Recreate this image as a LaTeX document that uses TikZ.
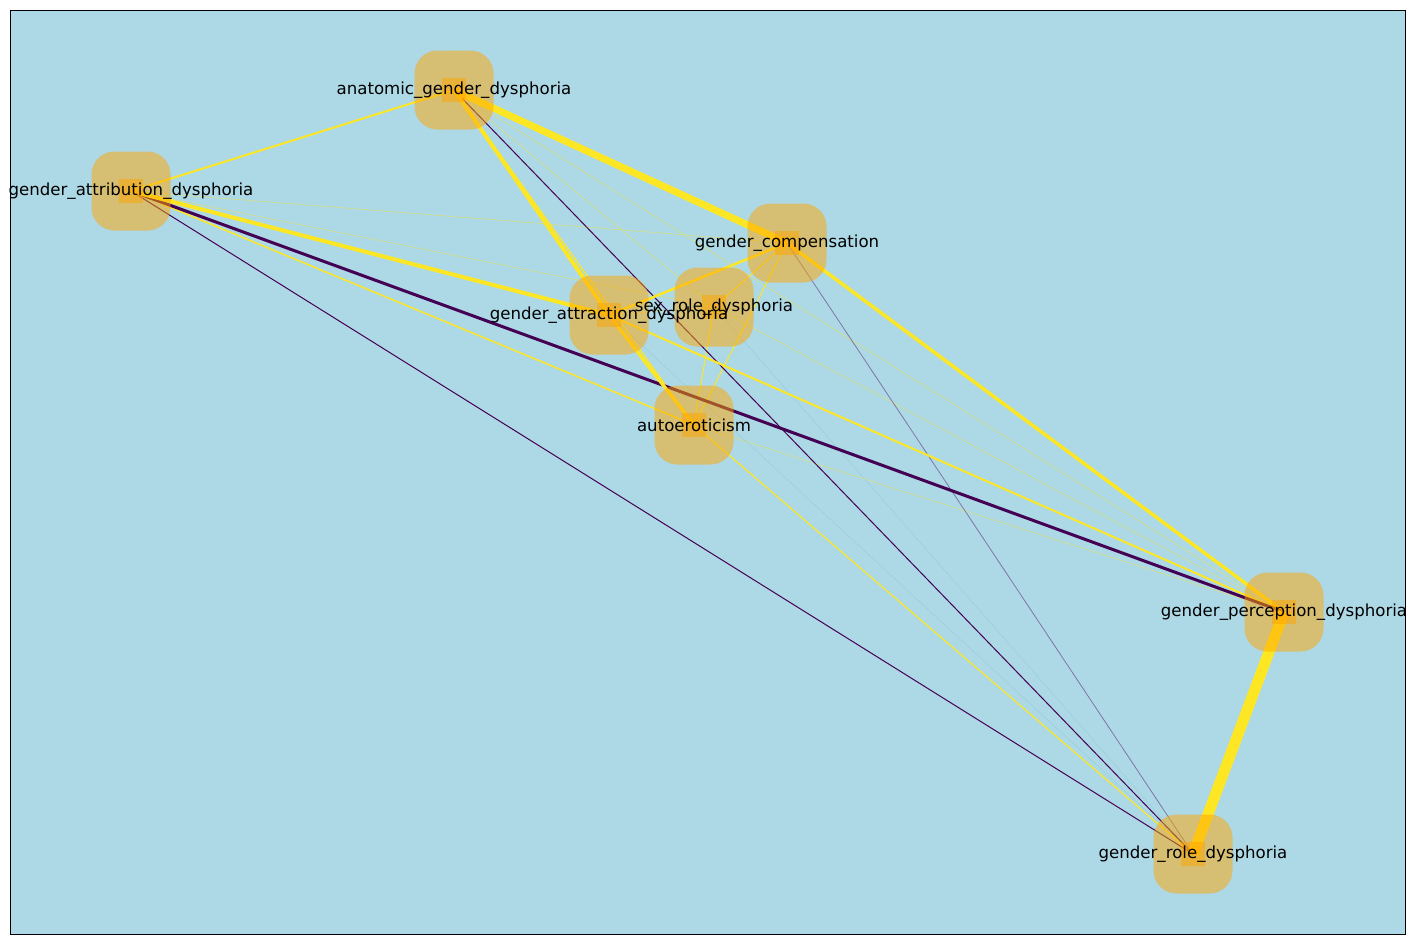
\documentclass[tikz,border=0pt]{standalone}
\usepackage{fontspec}
\setmainfont{DejaVu Sans}
\definecolor{bgblue}{HTML}{ADD8E6}
\definecolor{vy}{HTML}{FDE725}
\definecolor{vp}{HTML}{440154}
\definecolor{vt}{HTML}{21918C}
\definecolor{nodeor}{HTML}{FFA500}
\pgfdeclarelayer{back}
\pgfdeclarelayer{edges}
\pgfsetlayers{back,edges,main}
\begin{document}
\begin{tikzpicture}[x=0.5pt,y=-0.5pt,
  nodebox/.style={fill=nodeor, fill opacity=0.5, rounded corners=11.5pt, minimum size=39.5pt, inner sep=0pt, draw=none},
  core/.style={fill=nodeor, fill opacity=0.5, minimum size=12pt, inner sep=0pt, draw=none},
  lab/.style={font=\fontsize{8.3}{10}\selectfont, inner sep=0pt, text=black},
  ey/.style={draw=vy, line width=#1*0.5pt},
  ep/.style={draw=vp, line width=#1*0.5pt},
  faint/.style={draw=vy, line width=0.2pt, draw opacity=0.7},
  ghost/.style={draw=vt, line width=0.2pt, draw opacity=0.15}]
\useasboundingbox (0,0) rectangle (1415,944);
\begin{pgfonlayer}{back}
\fill[bgblue] (10,10) rectangle (1405,934);
\end{pgfonlayer}
% nodes
\node[nodebox] (A) at (454,90) {};
\node[nodebox] (T) at (131,191) {};
\node[nodebox] (C) at (787,243) {};
\node[nodebox] (X) at (609,315) {};
\node[nodebox] (S) at (714,307) {};
\node[nodebox] (E) at (694,425) {};
\node[nodebox] (P) at (1284,612) {};
\node[nodebox] (R) at (1193,854) {};
\foreach \n in {A,T,C,X,S,E,P,R}{\node[core] (\n c) at (\n.center) {};}
% edges
\begin{pgfonlayer}{edges}
\draw[faint] (T.center) -- (C.center);
\draw[faint] (T.center) -- (S.center);
\draw[faint] (A.center) -- (S.center);
\draw[faint] (A.center) -- (P.center);
\draw[faint] (X.center) -- (S.center);
\draw[faint] (S.center) -- (P.center);
\draw[faint] (E.center) -- (P.center);
\draw[ghost] (X.center) -- (R.center);
\draw[ghost] (S.center) -- (R.center);
\draw[draw=vp, line width=0.4pt, draw opacity=0.45] (C.center) -- (R.center);
\draw[ey=1.2] (A.center) -- (E.center);
\draw[ey=1] (C.center) -- (S.center);
\draw[ey=1] (C.center) -- (E.center);
\draw[ey=1] (S.center) -- (E.center);
\draw[ey=1.2] (E.center) -- (R.center);
\draw[ep=1] (A.center) -- (R.center);
\draw[ep=1] (T.center) -- (R.center);
\draw[ey=1.5] (T.center) -- (E.center);
\draw[ey=2] (A.center) -- (T.center);
\draw[ey=2] (X.center) -- (P.center);
\draw[ey=2.5] (C.center) -- (X.center);
\draw[ey=3.5] (C.center) -- (P.center);
\draw[ep=3] (T.center) -- (P.center);
\draw[ey=4] (A.center) -- (X.center);
\draw[ey=4] (T.center) -- (X.center);
\draw[ey=3.5] (X.center) -- (E.center);
\draw[ey=7] (A.center) -- (C.center);
\draw[ey=11] (P.center) -- (R.center);
\end{pgfonlayer}
% labels
\node[lab] (Al) at (A.center) {anatomic\_gender\_dysphoria};
\node[lab] (Tl) at (T.center) {gender\_attribution\_dysphoria};
\node[lab] (Cl) at (C.center) {gender\_compensation};
\node[lab] (Xl) at (X.center) {gender\_attraction\_dysphoria};
\node[lab] (Sl) at (S.center) {sex\_role\_dysphoria};
\node[lab] (El) at (E.center) {autoeroticism};
\node[lab] (Pl) at (P.center) {gender\_perception\_dysphoria};
\node[lab] (Rl) at (R.center) {gender\_role\_dysphoria};
\draw[black, line width=0.5pt] (10,10) rectangle (1405,934);
\end{tikzpicture}
\end{document}
